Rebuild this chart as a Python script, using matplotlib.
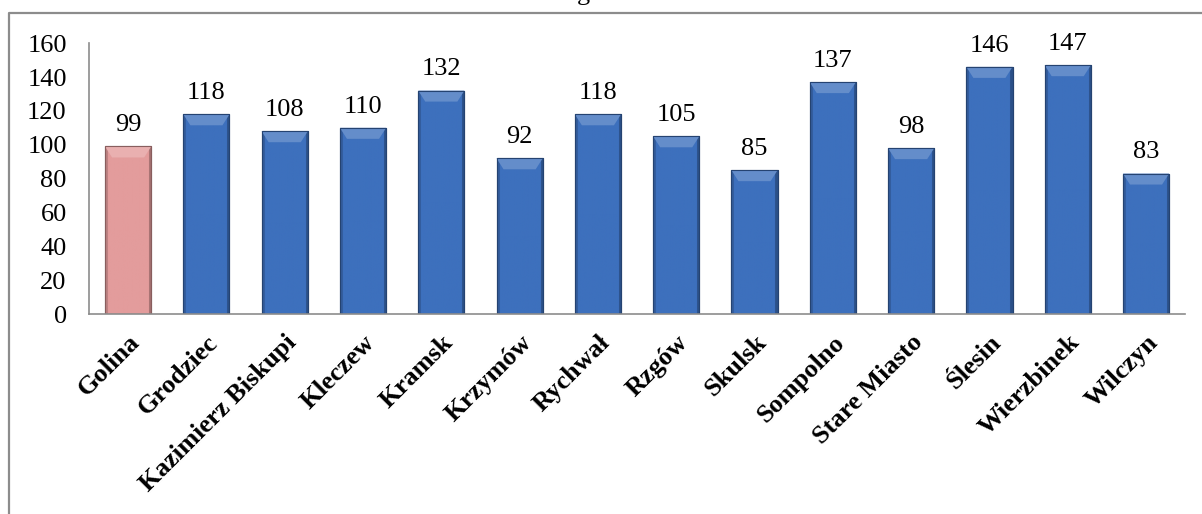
import numpy as np
import matplotlib
matplotlib.use("Agg")
import matplotlib.pyplot as plt
from matplotlib.colors import to_rgb
from matplotlib.lines import Line2D

# --- data ---
gminy = ["Golina", "Grodziec", "Kazimierz Biskupi", "Kleczew", "Kramsk",
         "Krzymów", "Rychwał", "Rzgów", "Skulsk", "Sompolno",
         "Stare Miasto", "Ślesin", "Wierzbinek", "Wilczyn"]
wartosci = [99, 118, 108, 110, 132, 92, 118, 105, 85, 137, 98, 146, 147, 83]
y_ticks = [0, 20, 40, 60, 80, 100, 120, 140, 160]

plt.rcParams['font.family'] = ['Liberation Serif', 'DejaVu Serif']

BLUE = "#3d70bd"
PINK = "#e39c9c"


def shade(color, factor):
    r, g, b = to_rgb(color)
    if factor < 1:
        return (r * factor, g * factor, b * factor)
    f = factor - 1
    return (r + (1 - r) * f, g + (1 - g) * f, b + (1 - b) * f)


def bar_gradient(color, n=80):
    # horizontal profile: a bit darker at the sides, flat in the middle
    t = np.linspace(0, 1, n)
    prof = np.ones(n)
    prof[t < 0.06] = 0.82
    prof[t > 0.94] = 0.72
    img = np.zeros((1, n, 3))
    for i, p in enumerate(prof):
        img[0, i] = shade(color, p)
    return img


fig = plt.figure(figsize=(12.02, 5.14), dpi=100)
ax = fig.add_axes([0.074, 0.389, 0.912, 0.527])

x = np.arange(len(gminy))
colors = [PINK] + [BLUE] * (len(gminy) - 1)
bars = ax.bar(x, wartosci, width=0.59, color=colors, zorder=2,
              edgecolor=[shade(c, 0.6) for c in colors], linewidth=0.8)

ax.set_xlim(-0.5, len(gminy) - 0.5)
ax.set_ylim(0, 160)

# fake bevelled look, similar to the Excel chart style
bevel = 6.5
for b, c in zip(bars, colors):
    x0, w, h = b.get_x(), b.get_width(), b.get_height()
    im = ax.imshow(bar_gradient(c), extent=(x0, x0 + w, 0, h),
                   aspect='auto', zorder=2.1)
    im.set_clip_path(b)
    top = plt.Polygon([(x0, h), (x0 + w, h), (x0 + w - 0.09, h - bevel),
                       (x0 + 0.09, h - bevel)], closed=True,
                      facecolor=shade(c, 1.2), edgecolor='none', zorder=2.2)
    ax.add_patch(top)
    ax.add_patch(plt.Rectangle((x0, 0), w, h, fill=False,
                               edgecolor=shade(c, 0.6), lw=0.8, zorder=2.3))

for xi, v in zip(x, wartosci):
    ax.text(xi, v + 6, str(v), ha='center', va='bottom', fontsize=19)

ax.set_yticks(y_ticks)
ax.set_yticklabels([str(t) for t in y_ticks], fontsize=19)
ax.set_xticks(x)
ax.set_xticklabels(gminy, rotation=45, ha='right', va='top',
                   rotation_mode='anchor', fontsize=19, fontweight='bold')
ax.tick_params(axis='both', length=0)
ax.tick_params(axis='y', pad=16)
ax.tick_params(axis='x', pad=12)

for side in ['top', 'right']:
    ax.spines[side].set_visible(False)
for side in ['left', 'bottom']:
    ax.spines[side].set_color('#8c8c8c')
    ax.spines[side].set_linewidth(1.2)

# outer chart frame (only left and top edges fall inside the image)
fx = 9 / 1202
fy = 1 - 13 / 514
fig.add_artist(Line2D([fx, fx, 1.0], [0.0, fy, fy], color='#8c8c8c', lw=1.6))

# title cut off at the top of the image - only a descender shows
fig.text(0.485, 1.0, "g", ha='center', va='baseline', fontsize=19)

fig.savefig("out.png", dpi=100)
